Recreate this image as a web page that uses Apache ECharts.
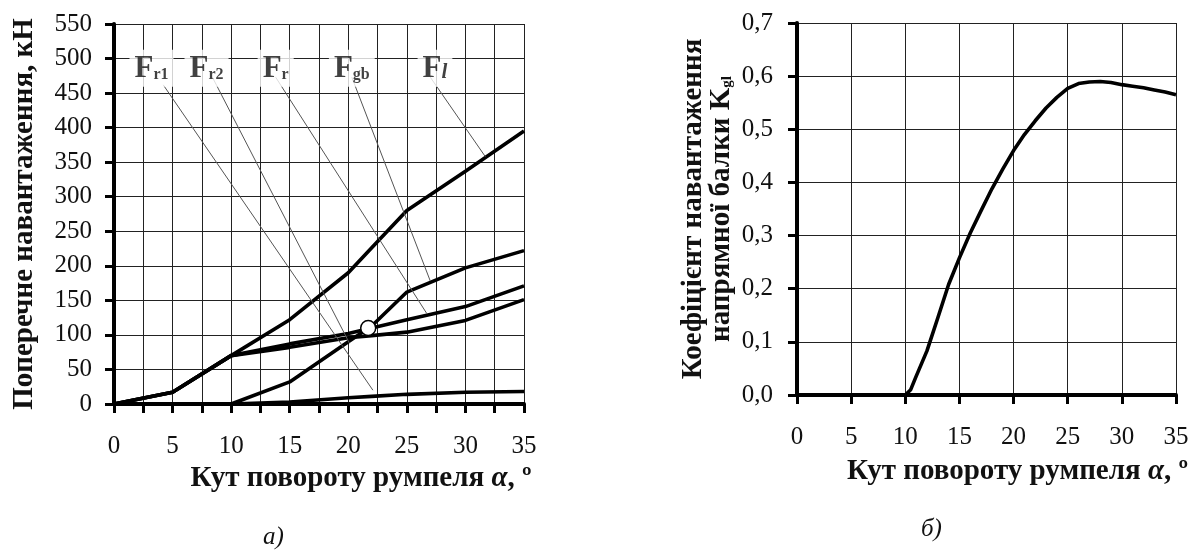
<!DOCTYPE html>
<html>
<head>
<meta charset="utf-8">
<script src="https://cdn.jsdelivr.net/npm/echarts@6/dist/echarts.min.js"></script>
<style>
  html, body { margin: 0; padding: 0; background: #fff; }
  #chart { width: 1198px; height: 550px; }
</style>
</head>
<body>
<div id="chart"></div>
<script>
// Кут повороту румпеля, градуси (ліва діаграма)
const angle   = [0, 5, 10, 15, 20, 22, 25, 30, 35];
// Поперечне навантаження, кН
const forceL  = [0, 17, 70, 122, 190, 226, 280, 337, 395];
const forceGb = [0, 0, 0, 32, 90, 113, 162, 197, 222];
const forceR  = [0, 17, 70, 87, 102, 110, 122, 141, 171];
const forceR2 = [0, 17, 70, 82, 96, 99, 104, 121, 151];
const forceR1 = [0, 0, 0, 3, 9, 11, 14, 17, 18];

// точка перетину (кружок)
const circlePoint = [21.7, 110];

// підписи кривих та виноски
const labelSubs  = ['r1', 'r2', 'r', 'gb', 'l'];
const labelAngle = [3.2, 7.9, 13.8, 20.3, 27.4];
const labelForce = 486;
const leaderFrom = [[4.2, 462], [8.4, 473], [13.8, 473], [20.3, 473], [27.0, 473]];
const leaderTo   = [[22.1, 20], [20.1, 88], [26.7, 131], [27.0, 178], [31.7, 358]];

// Коефіцієнт навантаження напрямної балки (права діаграма)
const kAngle = [10, 10.5, 11, 12, 13, 14, 15, 16, 17, 18, 19, 20, 21, 22, 23, 24, 25, 26, 27, 28, 29, 30, 31, 32, 33, 34, 35];
const kValue = [0, 0.01, 0.035, 0.083, 0.145, 0.208, 0.258, 0.305, 0.347, 0.388, 0.425, 0.46, 0.49, 0.516, 0.54, 0.56, 0.577, 0.586, 0.589, 0.59, 0.588, 0.584, 0.581, 0.578, 0.574, 0.57, 0.565];

const serif = 'Liberation Serif';
const ink = '#111';

function pairs(xs, ys) {
    return xs.map(function (x, i) { return [x, ys[i]]; });
}

function curve(name, ys) {
    return {
        name: name,
        type: 'line',
        xAxisIndex: 0,
        yAxisIndex: 0,
        data: pairs(angle, ys),
        symbol: 'none',
        lineStyle: { color: '#000', width: 3.6 },
        z: 3
    };
}

function axisCommon() {
    return {
        axisLine: { show: true, onZero: false, lineStyle: { color: '#000', width: 4 } },
        axisTick: { show: true, inside: false, length: 9, lineStyle: { color: '#000', width: 3 } },
        splitLine: { show: true, lineStyle: { color: '#222', width: 1 } },
        axisLabel: { color: ink, fontFamily: serif, fontSize: 25 }
    };
}

var chartDom = document.getElementById('chart');
var myChart = echarts.init(chartDom, null, { renderer: 'canvas' });

var titleStyle = { color: ink, fontFamily: serif, fontSize: 29, fontWeight: 'bold' };
var alphaStyle = Object.assign({}, titleStyle, { fontStyle: 'italic' });

var option = {
    animation: false,
    backgroundColor: '#fff',
    title: [
        { text: 'а)', left: 258, top: 520, textStyle: { color: ink, fontFamily: serif, fontSize: 25, fontStyle: 'italic', fontWeight: 'normal' } },
        { text: 'б)', left: 916, top: 512, textStyle: { color: ink, fontFamily: serif, fontSize: 25, fontStyle: 'italic', fontWeight: 'normal' } }
    ],
    grid: [
        { left: 114, top: 24, width: 410, height: 380, containLabel: false, outerBoundsMode: 'none' },
        { left: 797, top: 23, width: 379, height: 372, containLabel: false, outerBoundsMode: 'none' }
    ],
    xAxis: [
        Object.assign(axisCommon(), {
            type: 'value', gridIndex: 0, min: 0, max: 35, interval: 2.5,
            name: 'Кут повороту румпеля {a|α}, º',
            nameLocation: 'middle', nameGap: 60,
            nameTextStyle: Object.assign({}, titleStyle, { padding: [0, 0, 0, 84], rich: { a: alphaStyle } })
        }),
        Object.assign(axisCommon(), {
            type: 'value', gridIndex: 1, min: 0, max: 35, interval: 5,
            name: 'Кут повороту румпеля {a|α}, º',
            nameLocation: 'middle', nameGap: 62,
            nameTextStyle: Object.assign({}, titleStyle, { padding: [0, 0, 0, 62], rich: { a: alphaStyle } })
        })
    ],
    yAxis: [
        Object.assign(axisCommon(), {
            type: 'value', gridIndex: 0, min: 0, max: 550, interval: 50,
            name: 'Поперечне навантаження, кН',
            nameLocation: 'middle', nameGap: 75,
            nameTextStyle: titleStyle
        }),
        Object.assign(axisCommon(), {
            type: 'value', gridIndex: 1, min: 0, max: 0.7, interval: 0.1,
            name: 'Коефіцієнт навантаження\nнапрямної балки K{sub|gl}',
            nameLocation: 'middle', nameGap: 61,
            nameTextStyle: Object.assign({}, titleStyle, { lineHeight: 28, rich: { sub: Object.assign({}, titleStyle, { fontSize: 15, lineHeight: 28, padding: [10, 0, 0, 0] }) } })
        })
    ],
    series: [
        curve('Fl', forceL),
        curve('Fgb', forceGb),
        curve('Fr', forceR),
        curve('Fr2', forceR2),
        curve('Fr1', forceR1),
        {
            name: 'leaders',
            type: 'lines',
            coordinateSystem: 'cartesian2d',
            xAxisIndex: 0,
            yAxisIndex: 0,
            data: leaderFrom.map(function (p, i) { return { coords: [p, leaderTo[i]] }; }),
            lineStyle: { color: '#555', width: 1, opacity: 1 },
            z: 4
        },
        {
            name: 'labels',
            type: 'scatter',
            xAxisIndex: 0,
            yAxisIndex: 0,
            symbolSize: 0,
            data: labelAngle.map(function (a) { return [a, labelForce]; }),
            label: {
                show: true,
                position: 'inside',
                backgroundColor: '#fff',
                padding: [4, 5, 2, 5],
                formatter: function (p) {
                    var s = labelSubs[p.dataIndex];
                    return s === 'l' ? '{f|F}{i|l}' : '{f|F}{s|' + s + '}';
                },
                rich: {
                    f: { fontFamily: serif, fontSize: 31, fontWeight: 'bold', color: ink },
                    s: { fontFamily: serif, fontSize: 16, fontWeight: 'bold', color: ink, padding: [12, 0, 0, 0] },
                    i: { fontFamily: serif, fontSize: 21, fontWeight: 'bold', fontStyle: 'italic', color: ink, padding: [6, 0, 0, 0] }
                }
            },
            z: 6
        },
        {
            name: 'circle',
            type: 'scatter',
            xAxisIndex: 0,
            yAxisIndex: 0,
            symbolSize: 15,
            data: [circlePoint],
            itemStyle: { color: '#fff', borderColor: '#000', borderWidth: 1.5, opacity: 1 },
            z: 7
        },
        {
            name: 'Kgl',
            type: 'line',
            xAxisIndex: 1,
            yAxisIndex: 1,
            data: pairs(kAngle, kValue),
            symbol: 'none',
            lineStyle: { color: '#000', width: 3.6 },
            z: 3
        }
    ]
};

// підписи осі X лівої діаграми лише кожні 5 градусів
option.xAxis[0].axisLabel.formatter = function (v) { return v % 5 === 0 ? String(v) : ''; };
option.xAxis[0].axisLabel.margin = 30;
option.xAxis[1].axisLabel.margin = 30;
option.yAxis[0].axisLabel.margin = 22;
option.yAxis[1].axisLabel.margin = 24;
option.yAxis[1].axisLabel.formatter = function (v) { return v.toFixed(1).replace('.', ','); };

myChart.setOption(option);
window.addEventListener('resize', myChart.resize);
</script>
</body>
</html>
